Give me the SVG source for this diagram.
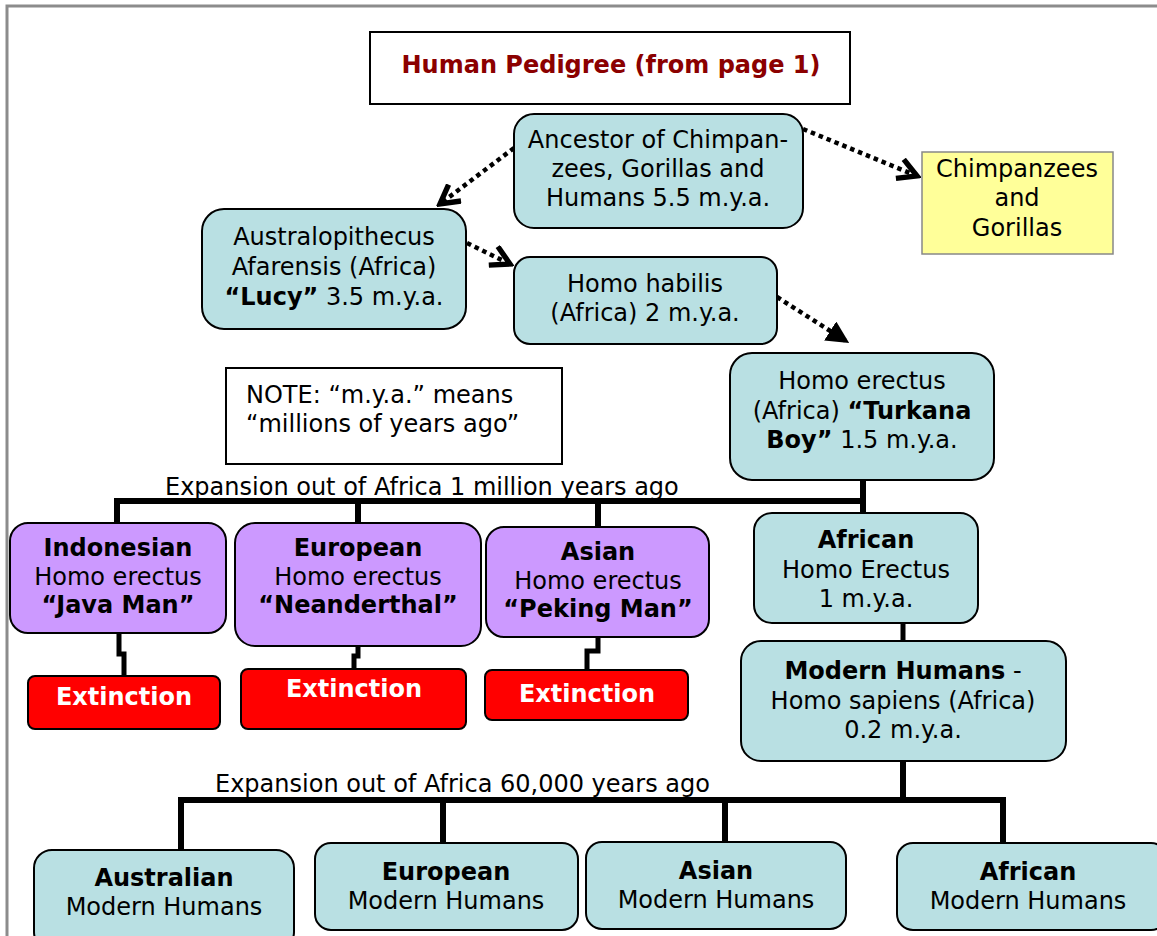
<svg xmlns="http://www.w3.org/2000/svg" width="1157" height="936" viewBox="0 0 1157 936">
<defs>
<style>
.t{font-family:"DejaVu Sans","Verdana",sans-serif;font-size:24px;fill:#000;text-anchor:middle}
.b{font-weight:bold}
.blue{fill:#B9E0E3;stroke:#000;stroke-width:2}
.purple{fill:#CC99FF;stroke:#000;stroke-width:2}
.red{fill:#FF0000;stroke:#000;stroke-width:2}
.ext{font-family:"DejaVu Sans","Verdana",sans-serif;font-size:24px;font-weight:bold;fill:#fff;text-anchor:middle}
.dot{fill:none;stroke:#000;stroke-width:4.5;stroke-dasharray:4.5 4}
.tree{fill:none;stroke:#000;stroke-width:6}
.thin{fill:none;stroke:#000;stroke-width:5}
</style>
<marker id="open" viewBox="0 0 12 12" refX="10" refY="6" markerWidth="5.5" markerHeight="5.5" markerUnits="strokeWidth" orient="auto">
<path d="M1,1 L10,6 L1,11" fill="none" stroke="#000" stroke-width="2.6"/>
</marker>
<marker id="fill" viewBox="0 0 12 12" refX="10" refY="6" markerWidth="5" markerHeight="5" markerUnits="strokeWidth" orient="auto">
<path d="M0,0 L12,6 L0,12 Z" fill="#000"/>
</marker>
</defs>
<rect x="0" y="0" width="1157" height="936" fill="#fff"/>
<rect x="7" y="6" width="1170" height="950" fill="none" stroke="#8c8c8c" stroke-width="3"/>

<g id="connectors">
<path class="dot" d="M514,148 L440,204" marker-end="url(#open)"/>
<path class="dot" d="M803,129 L917,176" marker-end="url(#open)"/>
<path class="dot" d="M467,243 L510,264" marker-end="url(#open)"/>
<path class="dot" d="M777,297 L846,341" marker-end="url(#fill)"/>
<path class="tree" d="M863,480 V513"/>
<path class="tree" d="M117,523 V501 H866"/>
<path class="tree" d="M358,523 V501"/>
<path class="tree" d="M598,527 V501"/>
<path class="thin" d="M119,633 V654 H124 V676"/>
<path class="thin" d="M358,646 V656 H354 V669"/>
<path class="thin" d="M598,637 V651 H587 V670"/>
<path class="thin" d="M903,623 V641"/>
<path class="tree" d="M903,761 V800"/>
<path class="tree" d="M181,850 V800 H1006"/>
<path class="tree" d="M443,843 V800"/>
<path class="tree" d="M725,842 V800"/>
<path class="tree" d="M1003,843 V800"/>
</g>

<g id="title">
<rect x="370" y="32" width="480" height="72" fill="#fff" stroke="#000" stroke-width="2"/>
<text x="611" y="73" style="font-family:'DejaVu Sans',sans-serif;font-size:24px;font-weight:bold;fill:#8B0000;text-anchor:middle">Human Pedigree (from page 1)</text>
</g>

<g id="ancestor">
<rect class="blue" x="514" y="114" width="289" height="114" rx="20"/>
<text class="t" x="658" y="148">Ancestor of Chimpan-</text>
<text class="t" x="658" y="177">zees, Gorillas and</text>
<text class="t" x="658" y="206">Humans 5.5 m.y.a.</text>
</g>

<g id="chimps">
<rect x="922" y="152" width="191" height="102" fill="#FFFF99" stroke="#888" stroke-width="1.5"/>
<text class="t" x="1017" y="177">Chimpanzees</text>
<text class="t" x="1017" y="206">and</text>
<text class="t" x="1017" y="236">Gorillas</text>
</g>

<g id="australopithecus">
<rect class="blue" x="202" y="209" width="264" height="120" rx="22"/>
<text class="t" x="334" y="245">Australopithecus</text>
<text class="t" x="334" y="275">Afarensis (Africa)</text>
<text class="t" x="334" y="305"><tspan class="b">“Lucy”</tspan> 3.5 m.y.a.</text>
</g>

<g id="habilis">
<rect class="blue" x="514" y="257" width="263" height="87" rx="16"/>
<text class="t" x="645" y="292">Homo habilis</text>
<text class="t" x="645" y="321">(Africa) 2 m.y.a.</text>
</g>

<g id="note">
<rect x="226" y="368" width="336" height="96" fill="#fff" stroke="#000" stroke-width="2"/>
<text class="t" x="246" y="403" style="text-anchor:start">NOTE: “m.y.a.” means</text>
<text class="t" x="246" y="432" style="text-anchor:start">“millions of years ago”</text>
</g>

<g id="erectus">
<rect class="blue" x="730" y="353" width="264" height="127" rx="22"/>
<text class="t" x="862" y="389">Homo erectus</text>
<text class="t" x="862" y="419">(Africa) <tspan class="b">“Turkana</tspan></text>
<text class="t" x="862" y="448"><tspan class="b">Boy”</tspan> 1.5 m.y.a.</text>
</g>

<text class="t" x="165" y="495" style="text-anchor:start">Expansion out of Africa 1 million years ago</text>

<g id="indonesian">
<rect class="purple" x="10" y="523" width="216" height="110" rx="18"/>
<text class="t b" x="118" y="556">Indonesian</text>
<text class="t" x="118" y="585">Homo erectus</text>
<text class="t b" x="118" y="613">“Java Man”</text>
</g>

<g id="european-erectus">
<rect class="purple" x="235" y="523" width="246" height="123" rx="20"/>
<text class="t b" x="358" y="556">European</text>
<text class="t" x="358" y="585">Homo erectus</text>
<text class="t b" x="358" y="613">“Neanderthal”</text>
</g>

<g id="asian-erectus">
<rect class="purple" x="486" y="527" width="223" height="110" rx="18"/>
<text class="t b" x="598" y="560">Asian</text>
<text class="t" x="598" y="589">Homo erectus</text>
<text class="t b" x="598" y="617">“Peking Man”</text>
</g>

<g id="extinction1">
<rect class="red" x="28" y="676" width="192" height="53" rx="7"/>
<text class="ext" x="124" y="705">Extinction</text>
</g>
<g id="extinction2">
<rect class="red" x="241" y="669" width="225" height="60" rx="7"/>
<text class="ext" x="354" y="697">Extinction</text>
</g>
<g id="extinction3">
<rect class="red" x="485" y="670" width="203" height="50" rx="7"/>
<text class="ext" x="587" y="702">Extinction</text>
</g>

<g id="african-erectus">
<rect class="blue" x="754" y="513" width="224" height="110" rx="18"/>
<text class="t b" x="866" y="548">African</text>
<text class="t" x="866" y="578">Homo Erectus</text>
<text class="t" x="866" y="607">1 m.y.a.</text>
</g>

<g id="modern">
<rect class="blue" x="741" y="641" width="325" height="120" rx="20"/>
<text class="t" x="903" y="679"><tspan class="b">Modern Humans</tspan> -</text>
<text class="t" x="903" y="709">Homo sapiens (Africa)</text>
<text class="t" x="903" y="738">0.2 m.y.a.</text>
</g>

<text class="t" x="215" y="792" style="text-anchor:start">Expansion out of Africa 60,000 years ago</text>

<g id="australian">
<rect class="blue" x="34" y="850" width="260" height="100" rx="18"/>
<text class="t b" x="164" y="886">Australian</text>
<text class="t" x="164" y="915">Modern Humans</text>
</g>
<g id="european-modern">
<rect class="blue" x="315" y="843" width="263" height="87" rx="16"/>
<text class="t b" x="446" y="880">European</text>
<text class="t" x="446" y="909">Modern Humans</text>
</g>
<g id="asian-modern">
<rect class="blue" x="586" y="842" width="260" height="87" rx="16"/>
<text class="t b" x="716" y="879">Asian</text>
<text class="t" x="716" y="908">Modern Humans</text>
</g>
<g id="african-modern">
<rect class="blue" x="897" y="843" width="270" height="87" rx="16"/>
<text class="t b" x="1028" y="880">African</text>
<text class="t" x="1028" y="909">Modern Humans</text>
</g>
</svg>
